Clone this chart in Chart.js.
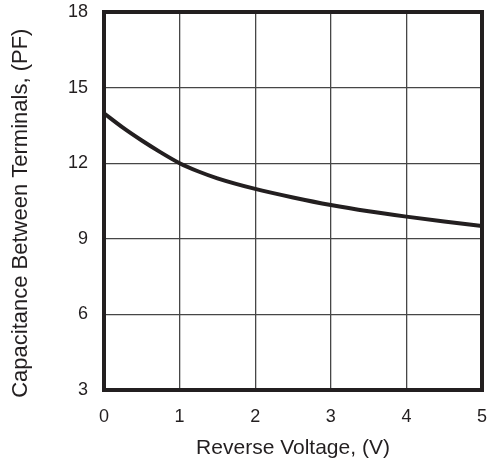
<!DOCTYPE html>
<html>
<head>
<meta charset="utf-8">
<script src="https://cdn.jsdelivr.net/npm/chart.js@4/dist/chart.umd.min.js"></script>
<style>
  html, body { margin: 0; padding: 0; background: #fff; }
  #wrap { width: 489px; height: 459px; position: relative; }
</style>
</head>
<body>
<div id="wrap"><canvas id="c"></canvas></div>
<script>
// Reverse voltage (V) and capacitance (pF)
const voltage = [0, 0.25, 0.5, 0.75, 1, 1.25, 1.5, 2, 2.5, 3, 3.5, 4, 4.5, 5];
const capacitance = [13.98, 13.41, 12.9, 12.43, 12.0, 11.67, 11.4, 10.98, 10.64, 10.34, 10.09, 9.88, 9.69, 9.51];
const xTicks = [0, 1, 2, 3, 4, 5];
const yTicks = [3, 6, 9, 12, 15, 18];

const ink = "#231f20";
const family = "'Liberation Sans', Arial, sans-serif";
const tickFont = { family, size: 18 };

// full heavy frame around the plot area
const frame = {
  id: "frame",
  afterDatasetsDraw(chart) {
    const { ctx, chartArea: a } = chart;
    ctx.save();
    ctx.strokeStyle = ink;
    ctx.lineWidth = 4;
    ctx.strokeRect(a.left, a.top, a.right - a.left, a.bottom - a.top);
    ctx.restore();
  },
};

// keep tick-label overflow from pushing the plot area in
function noEdgePadding(s) {
  s.paddingTop = 0;
  s.paddingBottom = 0;
  s.paddingLeft = 0;
  s.paddingRight = 0;
}

new Chart(document.getElementById("c"), {
  type: "line",
  data: {
    datasets: [{
      data: voltage.map((v, i) => ({ x: v, y: capacitance[i] })),
      borderColor: ink,
      borderWidth: 4,
      pointRadius: 0,
      cubicInterpolationMode: "monotone",
      fill: false,
    }],
  },
  options: {
    responsive: true,
    maintainAspectRatio: false,
    animation: false,
    layout: { padding: { left: 0, right: 7, top: 12, bottom: 0 } },
    plugins: { legend: { display: false }, tooltip: { enabled: false } },
    scales: {
      x: {
        type: "linear",
        min: 0, max: 5,
        afterFit: (s) => { s.height = 69; noEdgePadding(s); },
        afterBuildTicks: (s) => { s.ticks = xTicks.map((v) => ({ value: v })); },
        grid: { color: "#464646", lineWidth: 1.3, drawTicks: false },
        border: { display: false },
        ticks: { color: ink, font: tickFont, padding: 16 },
        title: { display: true, text: "Reverse Voltage, (V)", color: ink, font: { family, size: 21 }, padding: { top: 4, bottom: -2 } },
      },
      y: {
        min: 3, max: 18,
        afterFit: (s) => { s.width = 104; noEdgePadding(s); },
        afterBuildTicks: (s) => { s.ticks = yTicks.map((v) => ({ value: v })); },
        grid: { color: "#464646", lineWidth: 1.3, drawTicks: false },
        border: { display: false },
        ticks: { color: ink, font: tickFont, padding: 16 },
        title: { display: true, text: "Capacitance Between Terminals, (PF)    ", color: ink, font: { family, size: 22 }, padding: { top: 8 } },
      },
    },
  },
  plugins: [frame],
});
</script>
</body>
</html>
